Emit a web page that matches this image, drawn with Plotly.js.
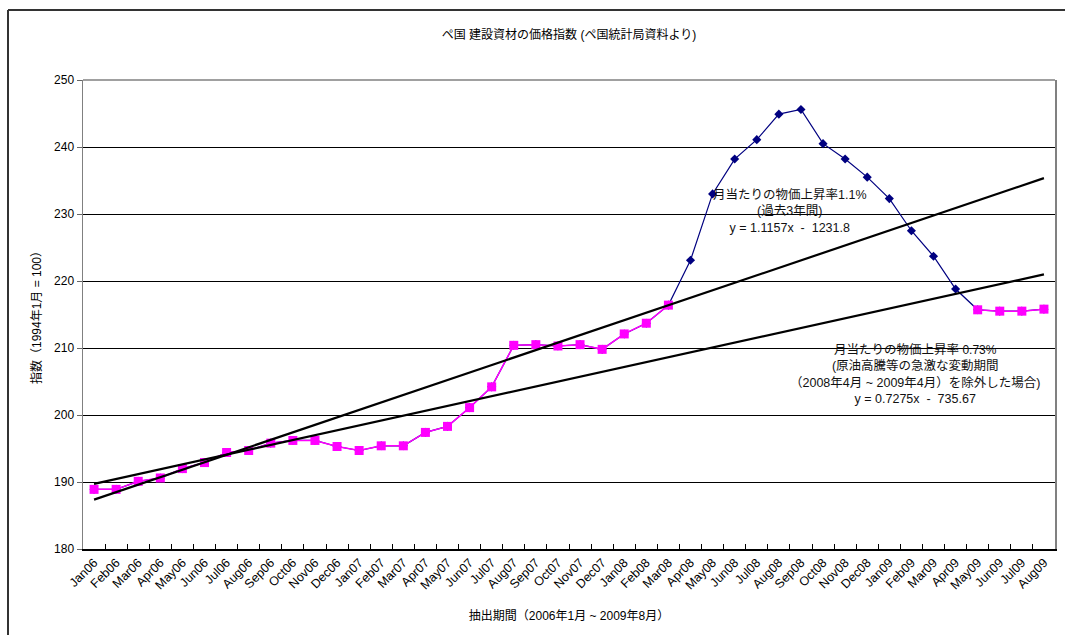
<!DOCTYPE html>
<html>
<head>
<meta charset="utf-8">
<script src="https://cdn.plot.ly/plotly-3.0.1.min.js"></script>
<style>
html,body{margin:0;padding:0;background:#fff;}
#chart{width:1065px;height:635px;}
</style>
</head>
<body>
<div id="chart"></div>
<script>
// Categories (months)
const months = ["Jan06","Feb06","Mar06","Apr06","May06","Jun06","Jul06","Aug06","Sep06","Oct06","Nov06","Dec06",
"Jan07","Feb07","Mar07","Apr07","May07","Jun07","Jul07","Aug07","Sep07","Oct07","Nov07","Dec07",
"Jan08","Feb08","Mar08","Apr08","May08","Jun08","Jul08","Aug08","Sep08","Oct08","Nov08","Dec08",
"Jan09","Feb09","Mar09","Apr09","May09","Jun09","Jul09","Aug09"];

// Full index series (navy diamonds)
const indexAll = [188.9,188.9,190.1,190.6,192.0,192.9,194.4,194.7,195.8,196.2,196.2,195.3,
194.7,195.4,195.4,197.4,198.3,201.1,204.2,210.4,210.5,210.3,210.5,209.8,
212.1,213.7,216.4,223.1,233.0,238.2,241.1,244.9,245.6,240.5,238.2,235.5,
232.3,227.5,223.7,218.8,215.7,215.5,215.5,215.8];

// Series excluding Apr08 - Apr09 (magenta squares)
const indexExcl = [188.9,188.9,190.1,190.6,192.0,192.9,194.4,194.7,195.8,196.2,196.2,195.3,
194.7,195.4,195.4,197.4,198.3,201.1,204.2,210.4,210.5,210.3,210.5,209.8,
212.1,213.7,216.4,null,null,null,null,null,null,null,null,null,
null,null,null,null,215.7,215.5,215.5,215.8];

// Trend line endpoints (Jan06, Aug09)
const trendX = ["Jan06","Aug09"];
const trendAll = [187.37,235.35];   // y = 1.1157x - 1231.8
const trendExcl = [189.71,220.99];  // y = 0.7275x - 735.67

const yTicks = [180,190,200,210,220,230,240,250];

const FONT = "Liberation Sans, Arial, 'Noto Sans CJK JP', sans-serif";

const traces = [
  {x: months, y: indexAll, type:"scatter", mode:"lines+markers",
   line:{color:"#000080", width:1.2},
   marker:{symbol:"diamond", size:7, color:"#000080"}, showlegend:false},
  {x: months, y: indexExcl, type:"scatter", mode:"lines+markers", connectgaps:false,
   line:{color:"#FF00FF", width:1.5},
   marker:{symbol:"square", size:9, color:"#FF00FF"}, showlegend:false},
  {x: trendX, y: trendAll, type:"scatter", mode:"lines",
   line:{color:"#000", width:2.2}, showlegend:false},
  {x: trendX, y: trendExcl, type:"scatter", mode:"lines",
   line:{color:"#000", width:2.2}, showlegend:false}
];

const ml=83, mr=10, mt=80, mb=86, W=1065, H=635;
const pw=W-ml-mr, ph=H-mt-mb;
const px = v => (v-ml)/pw;
const py = v => (H-mb-v)/ph;

const layout = {
  width:W, height:H,
  margin:{l:ml, r:mr, t:mt, b:mb, pad:0},
  paper_bgcolor:"#fff", plot_bgcolor:"#fff",
  font:{family:FONT, size:12, color:"#000"},
  title:{text:"ペ国 建設資材の価格指数 (ペ国統計局資料より)", font:{size:12, family:FONT, color:"#000"},
         x:0.5, xref:"paper", y:1-35/H, yanchor:"middle"},
  xaxis:{type:"category", categoryorder:"array", categoryarray:months,
    range:[-0.5, months.length-0.5], autorange:false,
    tickangle:-45, tickfont:{size:12.5, family:FONT},
    ticks:"inside", tickson:"boundaries", ticklen:5, tickcolor:"#000",
    showline:true, linecolor:"#000", linewidth:1.5, showgrid:false, zeroline:false,
    title:{text:"抽出期間（2006年1月 ~ 2009年8月）", font:{size:12, family:FONT}, standoff:20},
    automargin:false},
  yaxis:{range:[180,250], autorange:false, tickvals:yTicks, ticktext:yTicks.map(String),
    tickfont:{size:12, family:FONT},
    ticks:"outside", ticklen:5, tickcolor:"#666",
    showline:true, linecolor:"#808080", linewidth:1.5, mirror:true,
    showgrid:true, gridcolor:"#000", gridwidth:1, zeroline:false,
    title:{text:"指数（1994年1月 = 100）", font:{size:12, family:FONT}, standoff:10},
    automargin:false},
  shapes:[
    {type:"line", xref:"paper", yref:"paper", x0:px(8), x1:px(1070), y0:py(10), y1:py(10),
     line:{color:"#333", width:2}},
    {type:"line", xref:"paper", yref:"paper", x0:px(8), x1:px(8), y0:py(10), y1:py(640),
     line:{color:"#333", width:2}},
    {type:"line", xref:"paper", yref:"paper", x0:0, x1:1, y0:1, y1:1,
     line:{color:"#808080", width:1.5}}
  ],
  annotations:[
    {xref:"paper", yref:"paper", x:px(790), y:py(211), xanchor:"center", yanchor:"middle",
     showarrow:false, align:"center", font:{size:12.5, family:FONT, color:"#111"},
     text:"月当たりの物価上昇率1.1%<br>(過去3年間)<br>y = 1.1157x  -  1231.8"},
    {xref:"paper", yref:"paper", x:px(915), y:py(374), xanchor:"center", yanchor:"middle",
     showarrow:false, align:"center", font:{size:12.5, family:FONT, color:"#111"},
     text:"月当たりの物価上昇率 <span style='font-size:12px'>0.73%</span><br>(原油高騰等の急激な変動期間<br>（2008年4月 ~ 2009年4月）を除外した場合)<br>y = 0.7275x  -  735.67"}
  ]
};

Plotly.newPlot("chart", traces, layout, {displayModeBar:false, staticPlot:true});
</script>
</body>
</html>
